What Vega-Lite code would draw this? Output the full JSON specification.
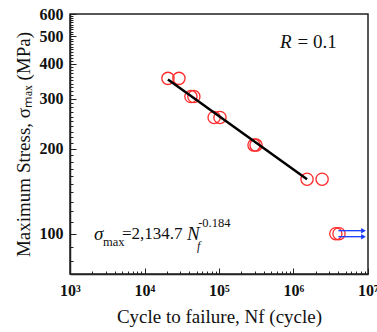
{
  "$schema": "https://vega.github.io/schema/vega-lite/v6.json",
  "width": 298,
  "height": 260,
  "autosize": "none",
  "padding": {"left": 70, "top": 14, "right": 9, "bottom": 58},
  "background": "white",
  "config": {
    "view": {"stroke": "#222", "strokeWidth": 1.5},
    "axis": {
      "domainColor": "#222", "domainWidth": 1.5, "tickColor": "#222", "grid": false,
      "labelFont": "Liberation Serif", "labelFontWeight": "bold", "labelFontSize": 16, "labelColor": "#111",
      "titleFont": "Liberation Serif", "titleFontWeight": "normal", "titleFontSize": 19, "titleColor": "#111",
      "labelOverlap": false, "labelFlush": false
    }
  },
  "datasets": {
    "pts": [
      {"N": 20650, "S": 355}, {"N": 29000, "S": 355},
      {"N": 42000, "S": 306}, {"N": 46000, "S": 306},
      {"N": 86000, "S": 258}, {"N": 103000, "S": 258},
      {"N": 295000, "S": 206}, {"N": 314000, "S": 206},
      {"N": 1520000, "S": 156}, {"N": 2420000, "S": 156},
      {"N": 3700000, "S": 100}, {"N": 4080000, "S": 100}
    ],
    "fit": [{"N": 20650, "S": 352}, {"N": 1520000, "S": 156}],
    "arrows": [{"N": 4000000, "N2": 8700000, "S": 102.5}, {"N": 4000000, "N2": 8700000, "S": 97.6}],
    "italicBig": [
      {"N": 2100, "S": 100, "t": "σ"},
      {"N": 37200, "S": 100, "t": "N"},
      {"N": 660000, "S": 477, "t": "R"}
    ],
    "normalBig": [
      {"N": 4990, "S": 100, "t": "=2,134.7"}
    ],
    "rText": [
      {"N": 1130000, "S": 477, "t": "= 0.1"}
    ],
    "smallText": [
      {"N": 2770, "S": 93.6, "t": "max"},
      {"N": 52500, "S": 109, "t": "-0.184"}
    ],
    "smallItalic": [
      {"N": 50700, "S": 90.5, "t": "f"}
    ]
  },
  "layer": [
    {
      "data": {"name": "pts"},
      "mark": {"type": "point", "shape": "circle", "filled": false, "color": "#ff2a2a", "size": 150, "strokeWidth": 1.3, "opacity": 1},
      "encoding": {
        "x": {
          "field": "N", "type": "quantitative",
          "scale": {"type": "log", "domain": [1000, 10000000], "nice": false},
          "axis": {
            "title": "Cycle to failure, Nf (cycle)",
            "titlePadding": 6,
            "values": [1000,2000,3000,4000,5000,6000,7000,8000,9000,10000,20000,30000,40000,50000,60000,70000,80000,90000,100000,200000,300000,400000,500000,600000,700000,800000,900000,1000000,2000000,3000000,4000000,5000000,6000000,7000000,8000000,9000000,10000000],
            "labelExpr": "datum.value == 1000 ? '10³' : datum.value == 10000 ? '10⁴' : datum.value == 100000 ? '10⁵' : datum.value == 1000000 ? '10⁶' : datum.value == 10000000 ? '10⁷' : ''",
            "tickSize": {"condition": {"test": "indexof([1000,10000,100000,1000000,10000000], datum.value) >= 0", "value": -6}, "value": -3},
            "labelPadding": 14
          }
        },
        "y": {
          "field": "S", "type": "quantitative",
          "scale": {"type": "log", "domain": [72, 600], "nice": false},
          "axis": {
            "title": "Maximum Stress, σₘₐₓ (MPa)",
            "titlePadding": 6,
            "values": [80,90,100,110,120,130,140,150,160,170,180,190,200,210,220,230,240,250,260,270,280,290,300,310,320,330,340,350,360,370,380,390,400,410,420,430,440,450,460,470,480,490,500,510,520,530,540,550,560,570,580,590,600],
            "labelExpr": "indexof([100,200,300,400,500,600], datum.value) >= 0 ? datum.label : ''",
            "tickSize": {"condition": {"test": "indexof([100,200,300,400,500,600], datum.value) >= 0", "value": -6}, "value": -3},
            "labelPadding": 13
          }
        }
      }
    },
    {
      "data": {"name": "fit"},
      "mark": {"type": "line", "color": "#000", "strokeWidth": 2.5},
      "encoding": {"x": {"field": "N", "type": "quantitative"}, "y": {"field": "S", "type": "quantitative"}}
    },
    {
      "data": {"name": "arrows"},
      "mark": {"type": "rule", "color": "#1a3cff", "strokeWidth": 1.3},
      "encoding": {"x": {"field": "N", "type": "quantitative"}, "x2": {"field": "N2"}, "y": {"field": "S", "type": "quantitative"}}
    },
    {
      "data": {"name": "arrows"},
      "mark": {"type": "point", "shape": "triangle-right", "filled": true, "color": "#1a3cff", "size": 30, "opacity": 1},
      "encoding": {"x": {"field": "N2", "type": "quantitative"}, "y": {"field": "S", "type": "quantitative"}}
    },
    {
      "data": {"name": "italicBig"},
      "mark": {"type": "text", "font": "Liberation Serif", "fontStyle": "italic", "fontSize": 19, "align": "left", "baseline": "middle", "color": "#111"},
      "encoding": {"x": {"field": "N", "type": "quantitative"}, "y": {"field": "S", "type": "quantitative"}, "text": {"field": "t"}}
    },
    {
      "data": {"name": "normalBig"},
      "mark": {"type": "text", "font": "Liberation Serif", "fontSize": 17, "align": "left", "baseline": "middle", "color": "#111"},
      "encoding": {"x": {"field": "N", "type": "quantitative"}, "y": {"field": "S", "type": "quantitative"}, "text": {"field": "t"}}
    },
    {
      "data": {"name": "rText"},
      "mark": {"type": "text", "font": "Liberation Serif", "fontSize": 19, "align": "left", "baseline": "middle", "color": "#111"},
      "encoding": {"x": {"field": "N", "type": "quantitative"}, "y": {"field": "S", "type": "quantitative"}, "text": {"field": "t"}}
    },
    {
      "data": {"name": "smallText"},
      "mark": {"type": "text", "font": "Liberation Serif", "fontSize": 12.5, "align": "left", "baseline": "middle", "color": "#111"},
      "encoding": {"x": {"field": "N", "type": "quantitative"}, "y": {"field": "S", "type": "quantitative"}, "text": {"field": "t"}}
    },
    {
      "data": {"name": "smallItalic"},
      "mark": {"type": "text", "font": "Liberation Serif", "fontStyle": "italic", "fontSize": 12, "align": "left", "baseline": "middle", "color": "#111"},
      "encoding": {"x": {"field": "N", "type": "quantitative"}, "y": {"field": "S", "type": "quantitative"}, "text": {"field": "t"}}
    }
  ]
}
